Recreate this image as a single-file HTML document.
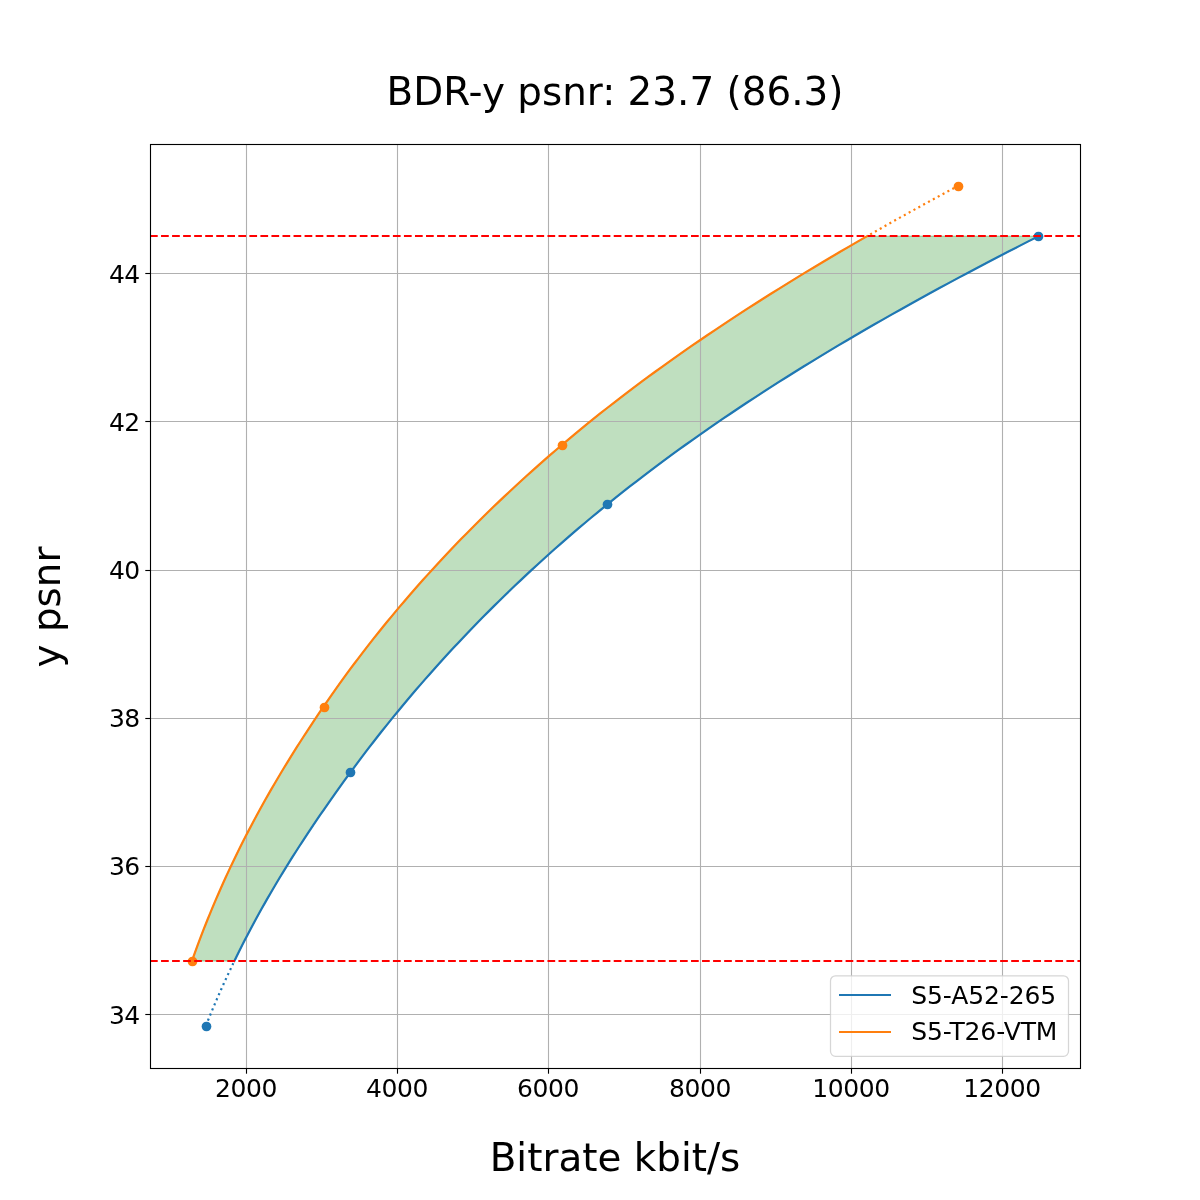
<!DOCTYPE html>
<html lang="en"><head><meta charset="utf-8"><title>BDR-y psnr</title>
<style>html,body{margin:0;padding:0;background:#fff;width:1200px;height:1200px;overflow:hidden}</style></head>
<body>
<svg width="1200" height="1200" viewBox="0 0 1200 1200" style="display:block;position:absolute;left:0;top:0">
<rect width="1200" height="1200" fill="#ffffff"/>
<defs><clipPath id="ax"><rect x="150" y="144" width="931" height="925"/></clipPath></defs>
<g clip-path="url(#ax)">
<polygon points="191.91,960.98 193.77,955.77 195.65,950.55 197.57,945.34 199.53,940.12 201.51,934.91 203.53,929.69 205.59,924.48 207.67,919.26 209.80,914.05 211.95,908.84 214.14,903.62 216.37,898.41 218.63,893.19 220.93,887.98 223.26,882.76 225.63,877.55 228.03,872.34 230.47,867.12 232.95,861.91 235.46,856.69 238.01,851.48 240.60,846.26 243.22,841.05 245.89,835.83 248.59,830.62 251.32,825.41 254.09,820.19 256.91,814.98 259.75,809.76 262.64,804.55 265.56,799.33 268.52,794.12 271.51,788.91 274.55,783.69 277.62,778.48 280.72,773.26 283.87,768.05 287.04,762.83 290.26,757.62 293.51,752.40 296.79,747.19 300.11,741.98 303.47,736.76 306.86,731.55 310.28,726.33 313.73,721.12 317.22,715.90 320.74,710.69 324.29,705.47 327.88,700.26 331.51,695.05 335.19,689.83 338.90,684.62 342.66,679.40 346.46,674.19 350.31,668.97 354.19,663.76 358.13,658.55 362.10,653.33 366.12,648.12 370.19,642.90 374.30,637.69 378.45,632.47 382.65,627.26 386.90,622.04 391.20,616.83 395.54,611.62 399.93,606.40 404.37,601.19 408.85,595.97 413.39,590.76 417.97,585.54 422.61,580.33 427.29,575.12 432.02,569.90 436.81,564.69 441.65,559.47 446.54,554.26 451.48,549.04 456.47,543.83 461.52,538.61 466.62,533.40 471.77,528.19 476.98,522.97 482.25,517.76 487.57,512.54 492.95,507.33 498.39,502.11 503.88,496.90 509.43,491.69 515.04,486.47 520.71,481.26 526.44,476.04 532.23,470.83 538.08,465.61 543.99,460.40 549.96,455.18 556.00,449.97 562.10,444.76 568.27,439.54 574.51,434.33 580.83,429.11 587.22,423.90 593.68,418.68 600.21,413.47 606.82,408.25 613.50,403.04 620.26,397.83 627.09,392.61 634.00,387.40 640.98,382.18 648.04,376.97 655.17,371.75 662.38,366.54 669.66,361.33 677.02,356.11 684.46,350.90 691.97,345.68 699.56,340.47 707.23,335.25 714.97,330.04 722.78,324.82 730.67,319.61 738.64,314.40 746.69,309.18 754.80,303.97 763.00,298.75 771.27,293.54 779.61,288.32 788.03,283.11 796.53,277.90 805.09,272.68 813.74,267.47 822.45,262.25 831.24,257.04 840.10,251.82 849.03,246.61 858.03,241.39 867.11,236.18 1038.58,236.18 1028.30,241.39 1018.10,246.61 1007.96,251.82 997.89,257.04 987.89,262.25 977.97,267.47 968.11,272.68 958.33,277.90 948.62,283.11 938.99,288.32 929.43,293.54 919.94,298.75 910.53,303.97 901.20,309.18 891.94,314.40 882.76,319.61 873.65,324.82 864.62,330.04 855.67,335.25 846.79,340.47 837.99,345.68 829.27,350.90 820.63,356.11 812.07,361.33 803.58,366.54 795.17,371.75 786.84,376.97 778.59,382.18 770.42,387.40 762.32,392.61 754.31,397.83 746.37,403.04 738.51,408.25 730.72,413.47 723.02,418.68 715.39,423.90 707.84,429.11 700.37,434.33 692.97,439.54 685.65,444.76 678.41,449.97 671.24,455.18 664.15,460.40 657.13,465.61 650.19,470.83 643.33,476.04 636.54,481.26 629.82,486.47 623.18,491.69 616.62,496.90 610.12,502.11 603.70,507.33 597.35,512.54 591.06,517.76 584.84,522.97 578.69,528.19 572.60,533.40 566.57,538.61 560.61,543.83 554.71,549.04 548.87,554.26 543.09,559.47 537.36,564.69 531.70,569.90 526.10,575.12 520.55,580.33 515.05,585.54 509.62,590.76 504.23,595.97 498.90,601.19 493.63,606.40 488.40,611.62 483.23,616.83 478.11,622.04 473.05,627.26 468.03,632.47 463.06,637.69 458.14,642.90 453.27,648.12 448.45,653.33 443.67,658.55 438.94,663.76 434.26,668.97 429.63,674.19 425.04,679.40 420.49,684.62 415.99,689.83 411.54,695.05 407.13,700.26 402.76,705.47 398.44,710.69 394.16,715.90 389.92,721.12 385.72,726.33 381.56,731.55 377.45,736.76 373.38,741.98 369.35,747.19 365.35,752.40 361.40,757.62 357.49,762.83 353.62,768.05 349.79,773.26 345.98,778.48 342.21,783.69 338.46,788.91 334.75,794.12 331.06,799.33 327.40,804.55 323.78,809.76 320.18,814.98 316.62,820.19 313.10,825.41 309.61,830.62 306.15,835.83 302.73,841.05 299.34,846.26 295.99,851.48 292.67,856.69 289.40,861.91 286.16,867.12 282.95,872.34 279.79,877.55 276.66,882.76 273.57,887.98 270.52,893.19 267.51,898.41 264.54,903.62 261.60,908.84 258.71,914.05 255.85,919.26 253.03,924.48 250.25,929.69 247.51,934.91 244.81,940.12 242.15,945.34 239.52,950.55 236.94,955.77 234.39,960.98" fill="#008000" fill-opacity="0.25" stroke="#008000" stroke-opacity="0.25" stroke-width="1.39" stroke-linejoin="miter"/>
</g>
<g stroke="#b0b0b0" stroke-width="1.11">
<line x1="246.5" y1="144.5" x2="246.5" y2="1068.5"/>
<line x1="397.5" y1="144.5" x2="397.5" y2="1068.5"/>
<line x1="548.5" y1="144.5" x2="548.5" y2="1068.5"/>
<line x1="700.5" y1="144.5" x2="700.5" y2="1068.5"/>
<line x1="851.5" y1="144.5" x2="851.5" y2="1068.5"/>
<line x1="1002.5" y1="144.5" x2="1002.5" y2="1068.5"/>
<line x1="150.5" y1="1014.5" x2="1080.5" y2="1014.5"/>
<line x1="150.5" y1="866.5" x2="1080.5" y2="866.5"/>
<line x1="150.5" y1="718.5" x2="1080.5" y2="718.5"/>
<line x1="150.5" y1="570.5" x2="1080.5" y2="570.5"/>
<line x1="150.5" y1="421.5" x2="1080.5" y2="421.5"/>
<line x1="150.5" y1="273.5" x2="1080.5" y2="273.5"/>
</g>
<g stroke="#000000" stroke-width="1.11">
<line x1="246.5" y1="1068.5" x2="246.5" y2="1073.7"/>
<line x1="397.5" y1="1068.5" x2="397.5" y2="1073.7"/>
<line x1="548.5" y1="1068.5" x2="548.5" y2="1073.7"/>
<line x1="700.5" y1="1068.5" x2="700.5" y2="1073.7"/>
<line x1="851.5" y1="1068.5" x2="851.5" y2="1073.7"/>
<line x1="1002.5" y1="1068.5" x2="1002.5" y2="1073.7"/>
<line x1="145.3" y1="1014.5" x2="150.5" y2="1014.5"/>
<line x1="145.3" y1="866.5" x2="150.5" y2="866.5"/>
<line x1="145.3" y1="718.5" x2="150.5" y2="718.5"/>
<line x1="145.3" y1="570.5" x2="150.5" y2="570.5"/>
<line x1="145.3" y1="421.5" x2="150.5" y2="421.5"/>
<line x1="145.3" y1="273.5" x2="150.5" y2="273.5"/>
</g>
<g clip-path="url(#ax)" fill="none" stroke-width="2.2" stroke-linejoin="round">
<polyline points="234.39,960.98 236.94,955.77 239.52,950.55 242.15,945.34 244.81,940.12 247.51,934.91 250.25,929.69 253.03,924.48 255.85,919.26 258.71,914.05 261.60,908.84 264.54,903.62 267.51,898.41 270.52,893.19 273.57,887.98 276.66,882.76 279.79,877.55 282.95,872.34 286.16,867.12 289.40,861.91 292.67,856.69 295.99,851.48 299.34,846.26 302.73,841.05 306.15,835.83 309.61,830.62 313.10,825.41 316.62,820.19 320.18,814.98 323.78,809.76 327.40,804.55 331.06,799.33 334.75,794.12 338.46,788.91 342.21,783.69 345.98,778.48 349.79,773.26 353.62,768.05 357.49,762.83 361.40,757.62 365.35,752.40 369.35,747.19 373.38,741.98 377.45,736.76 381.56,731.55 385.72,726.33 389.92,721.12 394.16,715.90 398.44,710.69 402.76,705.47 407.13,700.26 411.54,695.05 415.99,689.83 420.49,684.62 425.04,679.40 429.63,674.19 434.26,668.97 438.94,663.76 443.67,658.55 448.45,653.33 453.27,648.12 458.14,642.90 463.06,637.69 468.03,632.47 473.05,627.26 478.11,622.04 483.23,616.83 488.40,611.62 493.63,606.40 498.90,601.19 504.23,595.97 509.62,590.76 515.05,585.54 520.55,580.33 526.10,575.12 531.70,569.90 537.36,564.69 543.09,559.47 548.87,554.26 554.71,549.04 560.61,543.83 566.57,538.61 572.60,533.40 578.69,528.19 584.84,522.97 591.06,517.76 597.35,512.54 603.70,507.33 610.12,502.11 616.62,496.90 623.18,491.69 629.82,486.47 636.54,481.26 643.33,476.04 650.19,470.83 657.13,465.61 664.15,460.40 671.24,455.18 678.41,449.97 685.65,444.76 692.97,439.54 700.37,434.33 707.84,429.11 715.39,423.90 723.02,418.68 730.72,413.47 738.51,408.25 746.37,403.04 754.31,397.83 762.32,392.61 770.42,387.40 778.59,382.18 786.84,376.97 795.17,371.75 803.58,366.54 812.07,361.33 820.63,356.11 829.27,350.90 837.99,345.68 846.79,340.47 855.67,335.25 864.62,330.04 873.65,324.82 882.76,319.61 891.94,314.40 901.20,309.18 910.53,303.97 919.94,298.75 929.43,293.54 938.99,288.32 948.62,283.11 958.33,277.90 968.11,272.68 977.97,267.47 987.89,262.25 997.89,257.04 1007.96,251.82 1018.10,246.61 1028.30,241.39 1038.58,236.18" stroke="#1f77b4" stroke-linecap="square"/>
<polyline points="205.88,1025.71 206.77,1023.48 207.67,1021.25 208.57,1019.01 209.48,1016.78 210.39,1014.55 211.32,1012.32 212.25,1010.09 213.18,1007.85 214.12,1005.62 215.07,1003.39 216.03,1001.16 216.99,998.93 217.96,996.69 218.93,994.46 219.92,992.23 220.91,990.00 221.90,987.76 222.90,985.53 223.91,983.30 224.93,981.07 225.95,978.84 226.98,976.60 228.02,974.37 229.06,972.14 230.12,969.91 231.17,967.68 232.24,965.44 233.31,963.21 234.39,960.98" stroke="#1f77b4" stroke-dasharray="2.083 3.4375"/>
<polyline points="191.91,960.98 193.77,955.77 195.65,950.55 197.57,945.34 199.53,940.12 201.51,934.91 203.53,929.69 205.59,924.48 207.67,919.26 209.80,914.05 211.95,908.84 214.14,903.62 216.37,898.41 218.63,893.19 220.93,887.98 223.26,882.76 225.63,877.55 228.03,872.34 230.47,867.12 232.95,861.91 235.46,856.69 238.01,851.48 240.60,846.26 243.22,841.05 245.89,835.83 248.59,830.62 251.32,825.41 254.09,820.19 256.91,814.98 259.75,809.76 262.64,804.55 265.56,799.33 268.52,794.12 271.51,788.91 274.55,783.69 277.62,778.48 280.72,773.26 283.87,768.05 287.04,762.83 290.26,757.62 293.51,752.40 296.79,747.19 300.11,741.98 303.47,736.76 306.86,731.55 310.28,726.33 313.73,721.12 317.22,715.90 320.74,710.69 324.29,705.47 327.88,700.26 331.51,695.05 335.19,689.83 338.90,684.62 342.66,679.40 346.46,674.19 350.31,668.97 354.19,663.76 358.13,658.55 362.10,653.33 366.12,648.12 370.19,642.90 374.30,637.69 378.45,632.47 382.65,627.26 386.90,622.04 391.20,616.83 395.54,611.62 399.93,606.40 404.37,601.19 408.85,595.97 413.39,590.76 417.97,585.54 422.61,580.33 427.29,575.12 432.02,569.90 436.81,564.69 441.65,559.47 446.54,554.26 451.48,549.04 456.47,543.83 461.52,538.61 466.62,533.40 471.77,528.19 476.98,522.97 482.25,517.76 487.57,512.54 492.95,507.33 498.39,502.11 503.88,496.90 509.43,491.69 515.04,486.47 520.71,481.26 526.44,476.04 532.23,470.83 538.08,465.61 543.99,460.40 549.96,455.18 556.00,449.97 562.10,444.76 568.27,439.54 574.51,434.33 580.83,429.11 587.22,423.90 593.68,418.68 600.21,413.47 606.82,408.25 613.50,403.04 620.26,397.83 627.09,392.61 634.00,387.40 640.98,382.18 648.04,376.97 655.17,371.75 662.38,366.54 669.66,361.33 677.02,356.11 684.46,350.90 691.97,345.68 699.56,340.47 707.23,335.25 714.97,330.04 722.78,324.82 730.67,319.61 738.64,314.40 746.69,309.18 754.80,303.97 763.00,298.75 771.27,293.54 779.61,288.32 788.03,283.11 796.53,277.90 805.09,272.68 813.74,267.47 822.45,262.25 831.24,257.04 840.10,251.82 849.03,246.61 858.03,241.39 867.11,236.18" stroke="#ff7f0e" stroke-linecap="square"/>
<polyline points="867.11,236.18 870.14,234.45 873.18,232.71 876.23,230.98 879.29,229.24 882.35,227.51 885.42,225.78 888.50,224.04 891.59,222.31 894.68,220.57 897.78,218.84 900.89,217.10 904.01,215.37 907.13,213.64 910.27,211.90 913.40,210.17 916.55,208.43 919.71,206.70 922.87,204.97 926.03,203.23 929.21,201.50 932.39,199.76 935.58,198.03 938.78,196.29 941.98,194.56 945.20,192.83 948.41,191.09 951.64,189.36 954.87,187.62 958.11,185.89" stroke="#ff7f0e" stroke-dasharray="2.083 3.4375" stroke-dashoffset="1.97"/>
</g>
<g clip-path="url(#ax)">
<circle cx="206.5" cy="1026.5" r="4.86" fill="#1f77b4"/>
<circle cx="350.5" cy="772.5" r="4.86" fill="#1f77b4"/>
<circle cx="607.5" cy="504.5" r="4.86" fill="#1f77b4"/>
<circle cx="1038.5" cy="236.5" r="4.86" fill="#1f77b4"/>
<circle cx="192.5" cy="961.5" r="4.86" fill="#ff7f0e"/>
<circle cx="324.5" cy="707.5" r="4.86" fill="#ff7f0e"/>
<circle cx="562.5" cy="445.5" r="4.86" fill="#ff7f0e"/>
<circle cx="958.5" cy="186.5" r="4.86" fill="#ff7f0e"/>
<line x1="150" y1="961" x2="1081" y2="961" stroke="#ff0000" stroke-width="2" stroke-dasharray="7.708 3.333"/>
<line x1="150" y1="236" x2="1081" y2="236" stroke="#ff0000" stroke-width="2" stroke-dasharray="7.708 3.333"/>
</g>
<rect x="150.5" y="144.5" width="930.0" height="924.0" fill="none" stroke="#000000" stroke-width="1.11"/>
<rect x="830.5" y="975.8" width="238" height="80.5" rx="5" ry="5" fill="#ffffff" fill-opacity="0.8" stroke="#cccccc" stroke-opacity="0.8" stroke-width="1.25"/>
<rect x="839" y="994" width="52" height="2" fill="#1f77b4"/>
<rect x="839" y="1031" width="52" height="2" fill="#ff7f0e"/>
<g font-family="DejaVu Sans, Liberation Sans, sans-serif" fill="#000000">
<text x="911.2" y="1004" font-size="25" letter-spacing="-0.1">S5-A52-265</text>
<text x="911.2" y="1039.8" font-size="25" letter-spacing="-0.1">S5-T26-VTM</text>
<text x="245.9" y="1097" font-size="25" letter-spacing="-0.4" text-anchor="middle">2000</text>
<text x="396.9" y="1097" font-size="25" letter-spacing="-0.4" text-anchor="middle">4000</text>
<text x="548.0" y="1097" font-size="25" letter-spacing="-0.4" text-anchor="middle">6000</text>
<text x="700.0" y="1097" font-size="25" letter-spacing="-0.4" text-anchor="middle">8000</text>
<text x="851.0" y="1097" font-size="25" letter-spacing="-0.4" text-anchor="middle">10000</text>
<text x="1002.0" y="1097" font-size="25" letter-spacing="-0.4" text-anchor="middle">12000</text>
<text x="139.5" y="1023.5" font-size="25" letter-spacing="-0.6" text-anchor="end">34</text>
<text x="139.5" y="874.5" font-size="25" letter-spacing="-0.6" text-anchor="end">36</text>
<text x="139.5" y="726.5" font-size="25" letter-spacing="-0.6" text-anchor="end">38</text>
<text x="139.5" y="578.5" font-size="25" letter-spacing="-0.6" text-anchor="end">40</text>
<text x="139.5" y="430.5" font-size="25" letter-spacing="-0.6" text-anchor="end">42</text>
<text x="139.5" y="282.5" font-size="25" letter-spacing="-0.6" text-anchor="end">44</text>
<text x="615" y="104.5" font-size="38.89" text-anchor="middle">BDR-y psnr: 23.7 (86.3)</text>
<text x="615" y="1171" font-size="38.89" text-anchor="middle">Bitrate kbit/s</text>
<text transform="translate(60.3,607) rotate(-90)" font-size="38.89" text-anchor="middle">y psnr</text>
</g>
</svg>
</body></html>
